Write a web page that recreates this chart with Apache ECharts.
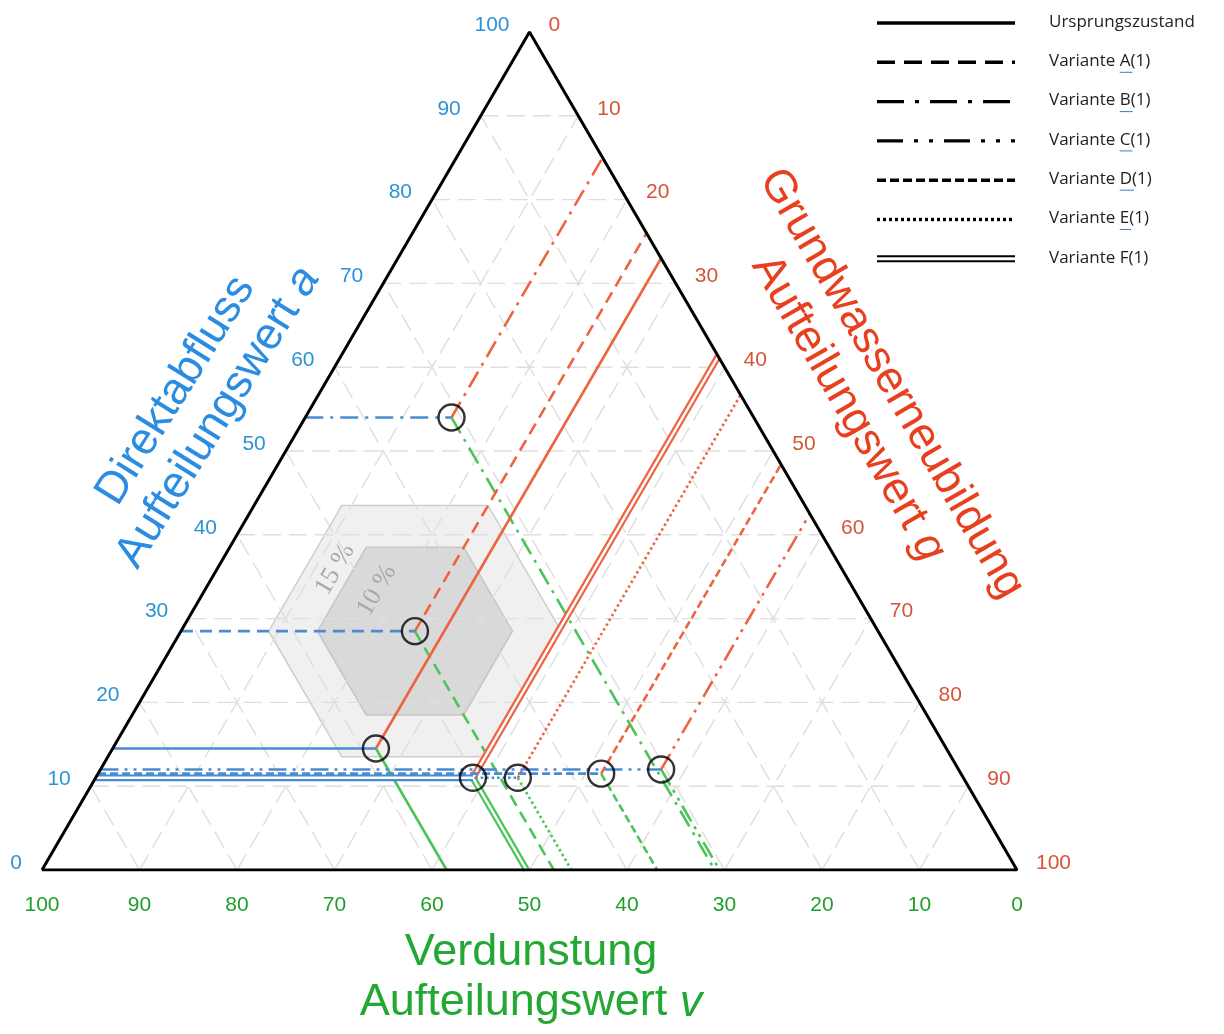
<!DOCTYPE html>
<html>
<head>
<meta charset="utf-8">
<script src="https://cdn.jsdelivr.net/npm/echarts@6/dist/echarts.min.js"></script>
<style>
  html, body { margin: 0; padding: 0; background: #ffffff; }
  #chart { width: 1224px; height: 1034px; }
</style>
</head>
<body>
<div id="chart"></div>
<script>
// ---- data -------------------------------------------------------------
const TICKS = [0, 10, 20, 30, 40, 50, 60, 70, 80, 90, 100];
const LATTICE = [10, 20, 30, 40, 50, 60, 70, 80, 90];

const variantNames = ['Ursprungszustand', 'Variante A(1)', 'Variante B(1)', 'Variante C(1)',
                      'Variante D(1)', 'Variante E(1)', 'Variante F(1)'];
// Aufteilungswerte in % (a = Direktabfluss, g = Grundwasserneubildung, v = Verdunstung)
const shareA = [14.5, 28.5, 54.0, 12.0, 11.5, 11.0, 11.0];
const shareG = [27.0, 24.0, 15.0, 57.5, 51.6, 43.3, 38.7];
const shareV = [58.5, 47.5, 31.0, 30.5, 36.9, 45.7, 50.3];

// tolerance hexagons around Variante A (index 1)
const toleranceCenter = 1;
const toleranceRadii = [15, 10];
const toleranceLabels = ['15 %', '10 %'];

// ---- styling ----------------------------------------------------------
const C_BLUE = '#4a8bd2', C_RED = '#ee6440', C_GREEN = '#4cc45a';
const T_BLUE = '#2b93d6', T_RED = '#d4553a', T_GREEN = '#1f9e2c';
const TT_BLUE = '#2a8de2', TT_RED = '#e8401f', TT_GREEN = '#22a833';
// line patterns per variant, in chart and in legend
const chartDash = [null, [12, 7], [18, 7, 3, 7], [18, 6, 3, 6, 3, 6], [8, 4], [2.5, 3], 'double'];
const legendDash = [null, [18, 9], [27, 11, 4, 11], [26, 11, 4, 11, 4, 11], [9, 4], [3, 3], 'double'];

// ternary (a, g) -> cartesian plot coordinates (x = g + a/2, y = a)
function tern(a, g) { return [g + a / 2, a]; }

const series = [];

// tolerance hexagons
series.push({
  type: 'custom',
  coordinateSystem: 'cartesian2d',
  silent: true, animation: false, z: 1, clip: false,
  data: toleranceRadii.map((r, i) => [shareA[toleranceCenter], shareG[toleranceCenter], r, i]),
  renderItem: function (params, api) {
    const a = api.value(0), g = api.value(1), r = api.value(2), idx = api.value(3);
    const offs = [[r, -r], [r, 0], [0, r], [-r, r], [-r, 0], [0, -r]];
    const pts = offs.map(o => api.coord(tern(a + o[0], g + o[1])));
    const mid = api.coord(tern(a + r / 2, g - r));
    return {
      type: 'group',
      children: [{
        type: 'polygon',
        shape: { points: pts },
        style: idx === 0
          ? { fill: '#f0f0f0', stroke: '#cdcdcd', lineWidth: 1.5 }
          : { fill: '#d9d9d9', stroke: '#c6c6c6', lineWidth: 1.5 }
      }, {
        type: 'text',
        x: mid[0] + (idx === 0 ? 30 : 35), y: mid[1] + 1,
        rotation: Math.PI / 3,
        style: {
          text: toleranceLabels[idx], fill: '#a8a8a8',
          font: '26px "Liberation Serif", "DejaVu Serif", serif',
          align: 'center', verticalAlign: 'middle'
        }
      }]
    };
  }
});

// dashed lattice every 10 %
const latticeSegs = [];
LATTICE.forEach(k => {
  latticeSegs.push([...tern(k, 0), ...tern(k, 100 - k)]);      // a = const
  latticeSegs.push([...tern(0, k), ...tern(100 - k, k)]);      // g = const
  latticeSegs.push([...tern(0, 100 - k), ...tern(100 - k, 0)]); // v = const
});
series.push({
  type: 'custom',
  coordinateSystem: 'cartesian2d',
  silent: true, animation: false, z: 2, clip: false,
  data: latticeSegs,
  renderItem: function (params, api) {
    const p1 = api.coord([api.value(0), api.value(1)]);
    const p2 = api.coord([api.value(2), api.value(3)]);
    return {
      type: 'line',
      shape: { x1: p1[0], y1: p1[1], x2: p2[0], y2: p2[1] },
      style: { stroke: '#dedede', lineWidth: 1.4, lineDash: [18, 8] }
    };
  }
});

// reading lines of every variant
function addLine(data, color, dash, z) {
  if (dash === 'double') {
    series.push({ type: 'line', data, symbol: 'none', silent: true, animation: false, z,
      lineStyle: { color, width: 6.8, type: 'solid' } });
    series.push({ type: 'line', data, symbol: 'none', silent: true, animation: false, z: z + 0.5,
      lineStyle: { color: '#ffffff', width: 2.4, type: 'solid' } });
  } else {
    series.push({ type: 'line', data, symbol: 'none', silent: true, animation: false, z,
      lineStyle: { color, width: 2.6, type: dash || 'solid' } });
  }
}
variantNames.forEach((name, i) => {
  const a = shareA[i], g = shareG[i], v = shareV[i];
  const p = tern(a, g);
  addLine([p, tern(0, 100 - v)], C_GREEN, chartDash[i], 4);
  addLine([p, tern(100 - g, g)], C_RED, chartDash[i], 5);
  addLine([tern(a, 0), p], C_BLUE, chartDash[i], 6);
});

// triangle frame
series.push({
  type: 'line', symbol: 'none', silent: true, animation: false, z: 8,
  data: [tern(0, 0), tern(100, 0), tern(0, 100), tern(0, 0)],
  lineStyle: { color: '#000000', width: 3 }
});

// markers
series.push({
  type: 'scatter', silent: true, animation: false, z: 9,
  data: variantNames.map((n, i) => tern(shareA[i], shareG[i])),
  symbol: 'circle', symbolSize: 26,
  itemStyle: { color: 'rgba(0,0,0,0)', borderColor: '#000000', borderWidth: 2.4 }
});

// axis tick labels along the three sides
function tickSeries(points, color, dx, dy, align) {
  return {
    type: 'custom', coordinateSystem: 'cartesian2d', silent: true, animation: false, z: 10, clip: false,
    data: points,
    renderItem: function (params, api) {
      const c = api.coord([api.value(0), api.value(1)]);
      return {
        type: 'text', x: c[0] + dx, y: c[1] + dy,
        style: {
          text: String(api.value(2)), fill: color,
          font: '21px "Liberation Sans", Arial, sans-serif',
          align, verticalAlign: 'middle'
        }
      };
    }
  };
}
series.push(tickSeries(TICKS.map(k => [...tern(k, 0), k]), T_BLUE, -20, -7, 'right'));
series.push(tickSeries(TICKS.map(k => [...tern(100 - k, k), k]), T_RED, 19, -7, 'left'));
series.push(tickSeries(TICKS.map(k => [...tern(0, 100 - k), k]), T_GREEN, 0, 35, 'center'));

// ---- titles and legend -------------------------------------------------
const titleFont = { fontSize: 45, fontFamily: '"Liberation Sans", Arial, sans-serif', lineHeight: 50 };
function titleText(l1, l2, sym, color, x, y, rot) {
  return {
    type: 'text', x, y, rotation: rot, z: 20,
    style: {
      text: '{n|' + l1 + '}\n{n|' + l2 + ' }{i|' + sym + '}',
      align: 'center', verticalAlign: 'middle',
      rich: {
        n: Object.assign({ fill: color }, titleFont),
        i: Object.assign({ fill: color, fontStyle: 'italic' }, titleFont)
      }
    }
  };
}

const LEG_X0 = 877, LEG_X1 = 1015, LEG_TX = 1049, LEG_Y0 = 23, LEG_DY = 39.3;
const legendFont = '17px "Open Sans", "Liberation Sans", sans-serif';
const measureCtx = document.createElement('canvas').getContext('2d');
measureCtx.font = legendFont;

const graphics = [
  titleText('Direktabfluss', 'Aufteilungswert', 'a', TT_BLUE, 197, 404, Math.PI * 58 / 180),
  titleText('Grundwasserneubildung', 'Aufteilungswert', 'g', TT_RED, 870, 396, -Math.PI / 3),
  titleText('Verdunstung', 'Aufteilungswert', 'v', TT_GREEN, 531, 978, 0)
];
variantNames.forEach((name, i) => {
  const y = LEG_Y0 + i * LEG_DY;
  const d = legendDash[i];
  if (d === 'double') {
    graphics.push({ type: 'line', shape: { x1: LEG_X0, y1: y - 2.5, x2: LEG_X1, y2: y - 2.5 },
      style: { stroke: '#000', lineWidth: 2 } });
    graphics.push({ type: 'line', shape: { x1: LEG_X0, y1: y + 2.5, x2: LEG_X1, y2: y + 2.5 },
      style: { stroke: '#000', lineWidth: 2 } });
  } else {
    graphics.push({ type: 'line', shape: { x1: LEG_X0, y1: y, x2: LEG_X1, y2: y },
      style: { stroke: '#000', lineWidth: 3.4, lineDash: d || null } });
  }
  graphics.push({ type: 'text', x: LEG_TX, y: y - 1,
    style: { text: name, font: legendFont, fill: '#222222', align: 'left', verticalAlign: 'middle' } });
  // spell-check style underline under the variant letter (A to E)
  if (i >= 1 && i <= 5) {
    const wPre = measureCtx.measureText('Variante ').width;
    const wLet = measureCtx.measureText(name.charAt(9)).width;
    graphics.push({ type: 'line',
      shape: { x1: LEG_TX + wPre, y1: y + 10, x2: LEG_TX + wPre + wLet + 2, y2: y + 10 },
      style: { stroke: '#4a74c9', lineWidth: 1 } });
  }
});

const chart = echarts.init(document.getElementById('chart'), null, { renderer: 'canvas' });
chart.setOption({
  backgroundColor: '#ffffff',
  animation: false,
  grid: { left: 42, right: 207, top: 32, bottom: 164, containLabel: false },
  xAxis: { type: 'value', min: 0, max: 100, interval: 10, show: false },
  yAxis: { type: 'value', min: 0, max: 100, interval: 10, show: false },
  series: series,
  graphic: graphics
});
</script>
</body>
</html>
